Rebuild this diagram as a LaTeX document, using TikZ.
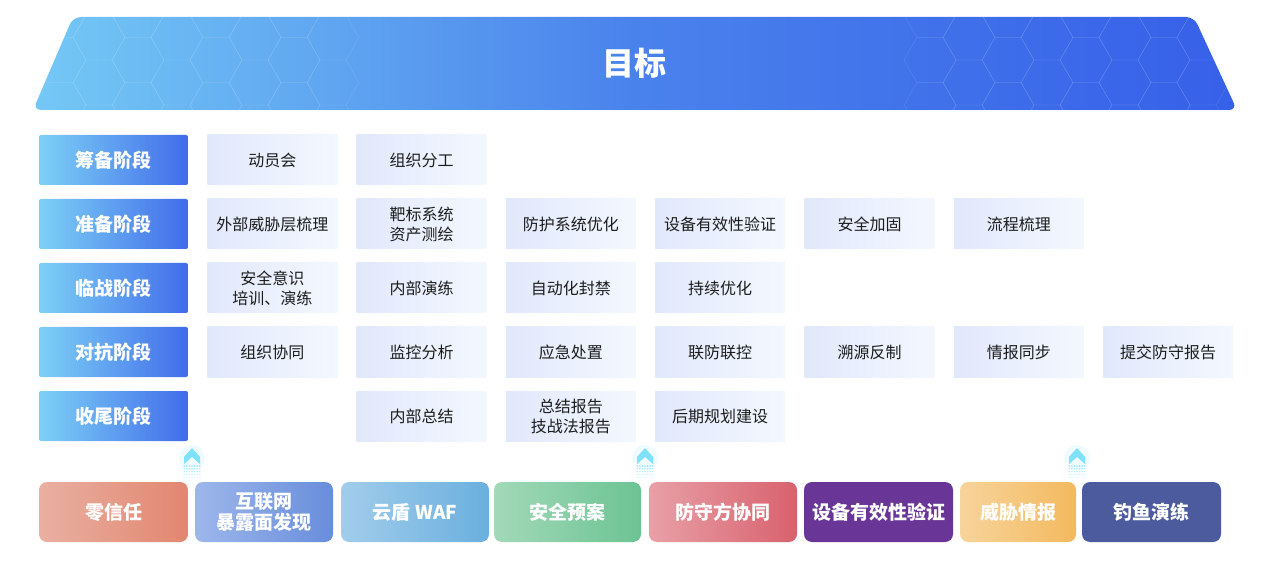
\documentclass[tikz,border=0pt]{standalone}
\usepackage{fontspec}
\setmainfont{Noto Sans CJK SC}
\usetikzlibrary{positioning,calc}
\definecolor{bannerL}{HTML}{74C8F5}
\definecolor{bannerM}{HTML}{4A82EC}
\definecolor{bannerR}{HTML}{3660E9}
\definecolor{stageL}{HTML}{7DD1F6}
\definecolor{stageR}{HTML}{416CEA}
\definecolor{cellL}{HTML}{E1E8FB}
\definecolor{cellR}{HTML}{F3F8FF}
\definecolor{cellT}{HTML}{1C1C1C}
\definecolor{arrowC}{HTML}{7FE2FB}
\definecolor{zeroL}{HTML}{E9B0A2}
\definecolor{zeroR}{HTML}{E2866F}
\definecolor{netL}{HTML}{9DB7EB}
\definecolor{netR}{HTML}{688DDB}
\definecolor{wafL}{HTML}{A2CDEB}
\definecolor{wafR}{HTML}{6AAFDE}
\definecolor{planL}{HTML}{A2D9B8}
\definecolor{planR}{HTML}{6CC393}
\definecolor{teamL}{HTML}{E8A0A7}
\definecolor{teamR}{HTML}{D8616D}
\definecolor{devC}{HTML}{693596}
\definecolor{intelL}{HTML}{F7D49C}
\definecolor{intelR}{HTML}{F3B95E}
\definecolor{fishC}{HTML}{4B5B9E}

\begin{document}
\begin{tikzpicture}[x=1pt,y=-1pt,node distance=19.3pt]
  \tikzstyle{stage}=[rectangle,rounded corners=2pt,left color=stageL,right color=stageR,text=white,font=\fontsize{19}{21}\selectfont\bfseries,minimum width=149pt,minimum height=50pt,inner sep=0pt,outer sep=0pt]
  \tikzstyle{cell}=[rectangle,left color=cellL,right color=cellR,text=cellT,font=\fontsize{16}{20}\selectfont,minimum width=130pt,minimum height=50pt,inner sep=0pt,outer sep=0pt,align=center]
  \tikzstyle{tool}=[rectangle,rounded corners=8pt,text=white,font=\fontsize{19}{21}\selectfont\bfseries,minimum height=60pt,inner sep=0pt,outer sep=0pt,align=center]
  \useasboundingbox (0,0) rectangle (1269,561);

  % Goal banner.
  \path[rounded corners=8pt,left color=bannerL,right color=bannerR,middle color=bannerM] (73,17) -- (1194,17) -- (1237,110) -- (33,110) -- cycle;
  \begin{scope}
    \clip[rounded corners=8pt] (73,17) -- (1194,17) -- (1237,110) -- (33,110) -- cycle;
    \foreach \i in {0,...,7}{
      \foreach \j in {0,...,2}{
        \pgfmathsetmacro{\hx}{60+39*\i}
        \pgfmathsetmacro{\hy}{15+45*\j+22.5*mod(\i,2)}
        \draw[white,opacity=0.14] (\hx,\hy) +(0:26) -- +(60:26) -- +(120:26) -- +(180:26) -- +(240:26) -- +(300:26) -- cycle;
        \pgfmathsetmacro{\kx}{930+39*\i}
        \draw[white,opacity=0.14] (\kx,\hy) +(0:26) -- +(60:26) -- +(120:26) -- +(180:26) -- +(240:26) -- +(300:26) -- cycle;
      }
    }
  \end{scope}
  \node[text=white,font=\fontsize{32}{34}\selectfont\bfseries] (goal) at (634,63) {目标};

  % Stages.
  \node[stage] (s1) at (113.5,160) {筹备阶段};
  \node[stage] (s2) [below=14pt of s1] {准备阶段};
  \node[stage] (s3) [below=14pt of s2] {临战阶段};
  \node[stage] (s4) [below=14pt of s3] {对抗阶段};
  \node[stage] (s5) [below=14pt of s4] {收尾阶段};

  % First stage.
  \node[cell] (c11) [right=of s1] {动员会};
  \node[cell] (c12) [right=of c11] {组织分工};

  % Second stage.
  \node[cell] (c21) [right=of s2] {外部威胁层梳理};
  \node[cell] (c22) [right=of c21] {靶标系统\\资产测绘};
  \node[cell] (c23) [right=of c22] {防护系统优化};
  \node[cell] (c24) [right=of c23] {设备有效性验证};
  \node[cell] (c25) [right=of c24] {安全加固};
  \node[cell] (c26) [right=of c25] {流程梳理};

  % Third stage.
  \node[cell] (c31) [right=of s3] {安全意识\\培训、演练};
  \node[cell] (c32) [right=of c31] {内部演练};
  \node[cell] (c33) [right=of c32] {自动化封禁};
  \node[cell] (c34) [right=of c33] {持续优化};

  % Fourth stage.
  \node[cell] (c41) [right=of s4] {组织协同};
  \node[cell] (c42) [right=of c41] {监控分析};
  \node[cell] (c43) [right=of c42] {应急处置};
  \node[cell] (c44) [right=of c43] {联防联控};
  \node[cell] (c45) [right=of c44] {溯源反制};
  \node[cell] (c46) [right=of c45] {情报同步};
  \node[cell] (c47) [right=of c46] {提交防守报告};

  % Fifth stage.
  \node[cell] (c52) at (c42 |- s5) {内部总结};
  \node[cell] (c53) [right=of c52] {总结报告\\技战法报告};
  \node[cell] (c54) [right=of c53] {后期规划建设};

  % Up marks.
  \foreach \ax in {192,645,1077}{
    \fill[arrowC,opacity=0.12] (\ax,458) circle (13pt);
    \fill[arrowC] (\ax,448) -- (\ax+8,457) -- (\ax+8,464) -- (\ax,457) -- (\ax-8,464) -- (\ax-8,457) -- cycle;
    \foreach \r in {0,...,4}{
      \foreach \c in {-3,...,3}{
        \fill[arrowC,opacity=0.8-0.15*\r] (\ax+2.6*\c,466+2.8*\r) circle (0.9pt);
      }
    }
  }

  % Supports.
  \node[tool,minimum width=149pt,left color=zeroL,right color=zeroR] (t1) at (113.5,512) {零信任};
  \node[tool,minimum width=138pt,left color=netL,right color=netR] (t2) [right=7pt of t1] {互联网\\暴露面发现};
  \node[tool,minimum width=148pt,left color=wafL,right color=wafR] (t3) [right=8pt of t2] {云盾 WAF};
  \node[tool,minimum width=147pt,left color=planL,right color=planR] (t4) [right=5pt of t3] {安全预案};
  \node[tool,minimum width=148pt,left color=teamL,right color=teamR] (t5) [right=8pt of t4] {防守方协同};
  \node[tool,minimum width=149pt,fill=devC] (t6) [right=7pt of t5] {设备有效性验证};
  \node[tool,minimum width=116pt,left color=intelL,right color=intelR] (t7) [right=7pt of t6] {威胁情报};
  \node[tool,minimum width=139pt,fill=fishC] (t8) [right=6pt of t7] {钓鱼演练};
\end{tikzpicture}
\end{document}
